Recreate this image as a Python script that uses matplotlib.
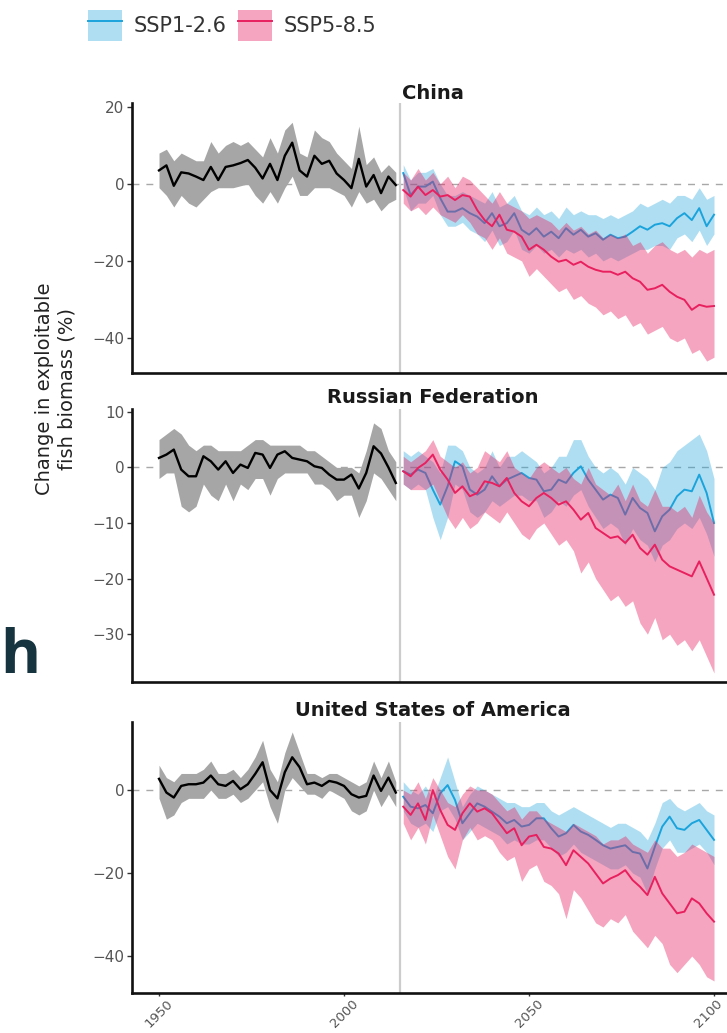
import numpy as np
import matplotlib
matplotlib.use("Agg")
import matplotlib.pyplot as plt
import matplotlib.transforms as mtransforms
from matplotlib.patches import Patch
from matplotlib.lines import Line2D

# ---------------- data ----------------
hist_years = np.arange(1950, 2015, 2)
fut_years = np.arange(2016, 2101, 2)
regions = ["China", "Russian Federation", "United States of America"]
scenarios = ["SSP1-2.6", "SSP5-8.5"]
x_ticks = [1950, 2000, 2050, 2100]

china_hist = [3.5, 4.8, -0.5, 3.0, 2.7, 1.9, 1.0, 4.4, 1.0, 4.4, 4.8, 5.4, 6.2, 4.2, 1.4, 5.2, 1.0,
              7.3, 10.7, 3.5, 1.9, 7.3, 5.2, 6.0, 2.7, 1.0, -1.1, 6.5, -0.7, 2.3, -2.4, 1.9, -0.3]
china_hist_hi = [8, 9, 6, 8, 7, 6, 6, 11, 8, 10, 11, 10, 11, 9, 7, 12, 8, 14, 16, 8, 7, 14, 12, 11,
                 8, 6, 4, 15, 5, 7, 3, 5, 3]
china_hist_lo = [-1, -3, -6, -3, -5, -6, -4, -2, -1, -1, -1, -0.5, 0, -3, -5, -2, -5, -1, 2, -3, -3,
                 -1, -1, -1, -2, -3, -6, -2, -5, -4, -7, -5, -4]
china_126 = [2.8, -2.9, -0.7, -0.7, 0.6, -3.7, -7.2, -7.2, -6.3, -7.6, -8.5, -10.2, -7.6, -11.0,
             -10.2, -7.6, -11.9, -13.2, -11.5, -13.7, -12.4, -14.1, -11.5, -13.2, -11.9, -13.7,
             -12.8, -14.5, -13.2, -14.1, -13.7, -12.4, -11.0, -11.9, -10.6, -10.2, -11.0, -8.9,
             -7.6, -9.4, -6.3, -11.0, -8.0]
china_126_hi = [5, 1, 3, 3, 4, 0, -3, -3, -2, -3, -4, -5, -2, -6, -5, -3, -7, -8, -6, -8, -7, -9,
                -6, -8, -7, -8, -8, -9, -8, -9, -8, -7, -5, -6, -5, -4, -5, -3, -3, -4, -1, -4, -3]
china_126_lo = [-1, -7, -5, -5, -3, -8, -11, -11, -10, -12, -13, -15, -12, -16, -15, -12, -17, -18,
                -16, -18, -17, -19, -17, -18, -17, -19, -18, -20, -19, -20, -19, -18, -17, -17,
                -16, -16, -17, -14, -13, -15, -12, -16, -13]
china_585 = [-1.6, -3.3, -0.7, -2.9, -1.6, -3.3, -2.9, -4.2, -2.9, -3.3, -6.8, -9.4, -11.0, -8.0,
             -11.9, -12.4, -13.7, -17.1, -15.8, -17.1, -18.9, -20.2, -19.7, -21.0, -20.2, -21.5,
             -22.3, -22.8, -22.8, -23.6, -22.8, -24.5, -25.4, -27.5, -27.1, -26.2, -28.0, -29.3,
             -30.1, -32.7, -31.4, -31.9, -31.7]
china_585_hi = [3, 1, 4, 1, 3, 0, 2, -1, 2, 1, -1, -3, -5, -2, -5, -6, -7, -9, -8, -9, -10, -12,
                -10, -12, -11, -13, -12, -14, -13, -14, -13, -16, -15, -18, -16, -15, -17, -18,
                -17, -19, -17, -18, -17]
china_585_lo = [-5, -7, -6, -8, -6, -8, -9, -10, -8, -10, -13, -14, -17, -14, -18, -19, -20, -24,
                -22, -24, -26, -28, -27, -30, -29, -31, -32, -34, -33, -35, -34, -37, -36, -39,
                -38, -37, -40, -41, -40, -44, -43, -46, -45]

russia_hist = [1.7, 2.3, 3.2, -0.4, -1.6, -1.6, 2.0, 1.1, -0.4, 1.1, -1.0, 0.5, -0.1, 2.6, 2.3,
               -0.1, 2.3, 2.9, 1.7, 1.4, 1.1, 0.2, -0.1, -1.3, -2.2, -2.2, -1.3, -3.8, -1.0, 3.8,
               2.5, 0.0, -2.8]
russia_hist_hi = [5, 6, 7, 6, 4, 3, 4, 4, 3, 3, 3, 3, 4, 5, 5, 4, 4, 4, 4, 4, 3, 3, 2, 1, 0, 0, 0,
                  -1, 3, 8, 7, 3, 1]
russia_hist_lo = [-2, -1, -1, -7, -8, -7, -3, -5, -6, -3, -6, -3, -4, -2, -2, -5, -2, -1, -1, -1,
                  -1, -3, -3, -4, -6, -5, -5, -9, -6, -1, -2, -4, -6]
russia_126 = [-0.7, -1.3, -0.4, -1.0, -4.0, -6.7, -3.4, 1.1, 0.2, -4.0, -4.9, -4.0, -1.6, -3.4,
              -2.2, -1.6, -1.0, -1.9, -2.2, -4.3, -4.0, -2.2, -2.8, -1.0, 0.2, -2.2, -4.0, -5.8,
              -4.9, -5.5, -8.5, -5.5, -7.3, -8.2, -11.5, -8.8, -7.6, -5.2, -4.0, -4.3, -1.3,
              -4.6, -10.0]
russia_126_hi = [3, 2, 3, 2, 1, -1, 4, 4, 3, 0, -1, 0, 3, 0, 2, 2, 3, 2, 1, -1, 0, 2, 2, 5, 5, 2,
                 0, -1, 0, -1, -3, 0, -1, -2, -4, 0, 1, 3, 4, 5, 6, 3, -2]
russia_126_lo = [-3, -4, -3, -4, -9, -13, -9, -3, -4, -8, -9, -8, -6, -7, -6, -5, -5, -6, -6, -9,
                 -8, -6, -7, -5, -4, -7, -9, -11, -10, -11, -14, -11, -13, -14, -17, -14, -13,
                 -11, -10, -11, -9, -12, -16]
russia_585 = [-0.7, -1.6, -0.1, 0.8, 2.3, -0.4, -2.2, -4.6, -3.4, -5.2, -4.6, -2.5, -2.8, -3.4,
              -1.9, -4.6, -6.1, -7.0, -5.5, -4.6, -5.5, -6.7, -6.1, -7.6, -9.4, -8.2, -10.9,
              -11.8, -12.7, -12.4, -13.6, -12.1, -14.5, -15.7, -13.9, -16.6, -17.8, -18.4,
              -19.0, -19.6, -16.9, -19.9, -22.9]
russia_585_hi = [2, 1, 2, 3, 5, 2, 1, 0, 1, -1, 0, 3, 2, 1, 3, 0, -1, -2, 0, 1, 0, -1, 0, -2, -3,
                 0, -3, -4, -5, -3, -6, -3, -6, -7, -4, -7, -7, -8, -7, -9, -5, -8, -10]
russia_585_lo = [-3, -4, -4, -4, -3, -6, -9, -11, -9, -11, -10, -8, -9, -10, -8, -10, -12, -13,
                 -11, -10, -12, -14, -13, -15, -19, -17, -20, -22, -24, -23, -25, -24, -28, -30,
                 -27, -31, -30, -32, -31, -33, -31, -34, -37]

usa_hist = [2.7, -0.6, -1.8, 1.0, 1.4, 1.4, 1.8, 3.5, 1.4, 1.0, 2.2, 0.2, 1.4, 3.9, 6.7, 0.0,
            -2.0, 4.3, 7.9, 5.5, 1.4, 1.8, 1.0, 2.2, 1.8, 1.0, -1.0, -1.8, -1.4, 3.5, -0.2, 3.0,
            -0.6]
usa_hist_hi = [6, 3, 2, 4, 4, 4, 5, 7, 4, 4, 5, 3, 5, 8, 12, 5, 2, 9, 14, 9, 4, 4, 3, 4, 4, 3, 2,
               1, 2, 7, 3, 7, 2]
usa_hist_lo = [-2, -7, -6, -3, -2, -2, -2, 0, -2, -2, -1, -3, -2, 0, 2, -4, -8, 0, 3, 1, -1, -1,
               -2, 0, -1, -2, -5, -6, -5, 0, -4, -1, -4]
usa_126 = [-1.6, -4.0, -4.4, -3.6, -5.6, -0.8, 1.2, -2.4, -8.0, -5.6, -3.2, -4.0, -5.2, -6.4,
           -8.0, -7.2, -8.8, -8.4, -6.8, -6.8, -9.2, -11.2, -10.4, -8.4, -10.0, -10.8, -12.0,
           -13.3, -14.1, -13.7, -13.3, -14.9, -15.3, -18.9, -13.7, -8.8, -6.4, -9.2, -9.6, -8.0,
           -7.2, -9.6, -12.0]
usa_126_hi = [2, 0, -1, 1, -2, 3, 8, 2, -4, -1, 1, 0, -1, -2, -3, -3, -4, -4, -3, -3, -5, -6, -5,
              -4, -5, -6, -7, -8, -9, -8, -8, -9, -10, -12, -8, -3, -2, -4, -5, -4, -3, -5, -6]
usa_126_lo = [-5, -8, -9, -8, -10, -5, -4, -7, -12, -10, -8, -9, -10, -11, -13, -12, -13, -13,
              -12, -12, -14, -16, -15, -13, -15, -16, -17, -18, -19, -19, -18, -20, -21, -25,
              -19, -14, -12, -15, -15, -14, -13, -15, -18]
usa_585 = [-4.0, -6.0, -3.2, -7.2, 0.0, -4.8, -8.4, -9.6, -5.6, -3.2, -5.2, -4.4, -5.6, -8.0,
           -10.4, -9.2, -13.3, -11.2, -10.8, -13.7, -14.1, -15.3, -18.1, -14.5, -16.1, -17.7,
           -20.1, -22.5, -21.3, -20.5, -19.3, -21.7, -23.3, -25.3, -20.9, -24.9, -27.3, -29.7,
           -29.3, -26.1, -27.3, -29.7, -31.7]
usa_585_hi = [0, -1, 2, -2, 3, 0, -3, -4, -1, 1, 0, 0, -1, -3, -5, -4, -7, -5, -5, -7, -8, -9,
              -10, -8, -9, -10, -11, -13, -12, -12, -11, -13, -14, -15, -12, -14, -14, -16, -15,
              -13, -14, -15, -16]
usa_585_lo = [-8, -12, -9, -13, -6, -11, -16, -19, -12, -9, -12, -11, -12, -15, -17, -16, -22,
              -19, -18, -22, -23, -25, -31, -24, -26, -29, -32, -33, -31, -32, -30, -34, -36,
              -38, -35, -37, -42, -44, -42, -40, -42, -45, -46]

china_yticks = [-40, -20, 0, 20]
russia_yticks = [-30, -20, -10, 0, 10]
usa_yticks = [-40, -20, 0]

# ---------------- styling ----------------
BLUE = "#1ba3dc"
PINK = "#e8205f"
HIST_FILL = "#a6a6a6"
W, H = 727, 1033

panels = [
    dict(name=regions[0], hist=(china_hist, china_hist_lo, china_hist_hi),
         s1=(china_126, china_126_lo, china_126_hi), s5=(china_585, china_585_lo, china_585_hi),
         yticks=china_yticks, ylim=(-49.1, 21.0), top=103, bottom=373, pad=3.0),
    dict(name=regions[1], hist=(russia_hist, russia_hist_lo, russia_hist_hi),
         s1=(russia_126, russia_126_lo, russia_126_hi), s5=(russia_585, russia_585_lo, russia_585_hi),
         yticks=russia_yticks, ylim=(-38.6, 10.5), top=409, bottom=682, pad=4.0),
    dict(name=regions[2], hist=(usa_hist, usa_hist_lo, usa_hist_hi),
         s1=(usa_126, usa_126_lo, usa_126_hi), s5=(usa_585, usa_585_lo, usa_585_hi),
         yticks=usa_yticks, ylim=(-48.9, 16.4), top=722, bottom=993, pad=4.5),
]

plt.rcParams["font.family"] = ["DejaVu Sans"]
fig = plt.figure(figsize=(W / 100, H / 100), dpi=100)

left_px, right_px = 132, 734
for i, p in enumerate(panels):
    ax = fig.add_axes([left_px / W, 1 - p["bottom"] / H,
                       (right_px - left_px) / W, (p["bottom"] - p["top"]) / H])
    ax.set_xlim(1942.7, 2105.4)
    ax.set_ylim(*p["ylim"])
    ax.axhline(0, color="#a8a8a8", lw=1.0, ls=(0, (5, 5)), zorder=1)
    ax.axvline(2015, color="#cccccc", lw=1.6, zorder=1)

    hm, hl, hh = p["hist"]
    ax.fill_between(hist_years, hl, hh, color=HIST_FILL, lw=0, zorder=2)
    ax.plot(hist_years, hm, color="black", lw=1.7, zorder=6)

    m1, l1, u1 = p["s1"]
    m5, l5, u5 = p["s5"]
    ax.fill_between(fut_years, l1, u1, color=BLUE, alpha=0.35, lw=0, zorder=2)
    ax.plot(fut_years, m1, color=BLUE, lw=1.4, zorder=3)
    ax.fill_between(fut_years, l5, u5, color=PINK, alpha=0.4, lw=0, zorder=4)
    ax.plot(fut_years, m5, color=PINK, lw=1.4, zorder=5)

    for s in ("top", "right"):
        ax.spines[s].set_visible(False)
    for s in ("left", "bottom"):
        ax.spines[s].set_linewidth(1.9)
        ax.spines[s].set_color("#111111")

    ax.set_yticks(p["yticks"])
    ax.tick_params(axis="y", length=3.5, width=1.0, color="#333333",
                   labelsize=11, labelcolor="#555555", pad=2)
    ax.set_xticks(x_ticks)
    if i < 2:
        ax.tick_params(axis="x", bottom=False, labelbottom=False)
    else:
        ax.tick_params(axis="x", length=2.5, width=1.0, color="#333333",
                       labelsize=9.5, labelcolor="#555555", pad=0.5)
        labs = ax.get_xticklabels()
        for lab in labs:
            lab.set_rotation(45)
            lab.set_ha("center")
            lab.set_va("top")
        # nudge the last label slightly so it stays inside the canvas
        labs[-1].set_transform(labs[-1].get_transform() +
                               mtransforms.ScaledTranslation(-6 / 100, 0, fig.dpi_scale_trans))
    ax.set_title(p["name"], fontsize=14, fontweight="bold", color="#1a1a1a", pad=p["pad"])

fig.text(56 / W, 1 - 389 / H, "Change in exploitable\nfish biomass (%)", rotation=90,
         ha="center", va="center", fontsize=14, color="#222222", linespacing=1.25)

handles = [
    (Patch(facecolor=BLUE, alpha=0.35, lw=0), Line2D([], [], color=BLUE, lw=1.4)),
    (Patch(facecolor=PINK, alpha=0.4, lw=0), Line2D([], [], color=PINK, lw=1.4)),
]
fig.legend(handles, scenarios, loc="upper left", bbox_to_anchor=(88 / W, 1 - 10 / H),
           ncol=2, frameon=False, fontsize=15, handlelength=1.63, handleheight=1.92,
           handletextpad=0.55, columnspacing=0.55, borderaxespad=0, borderpad=0,
           labelcolor="#333333")

fig.text(0.5 / W, 1 - 673 / H, "h", fontsize=44, fontweight="bold", color="#15343f",
         ha="left", va="baseline",
         family=["Liberation Sans Narrow", "Open Sans", "DejaVu Sans"])

fig.savefig("out.png", dpi=100)
